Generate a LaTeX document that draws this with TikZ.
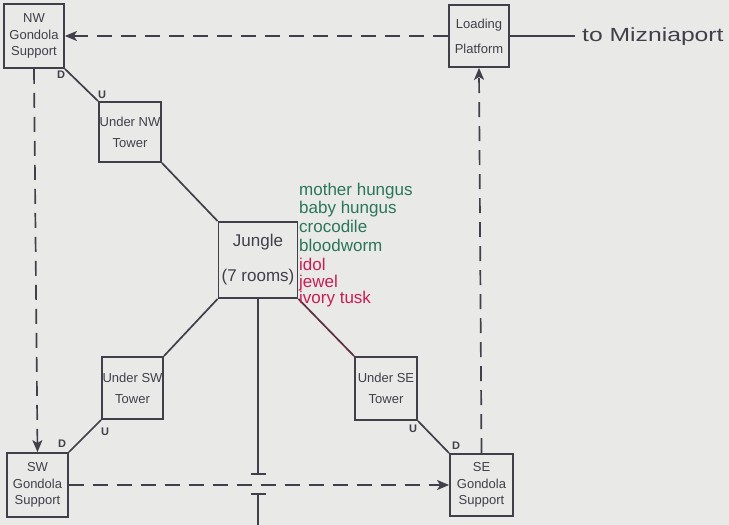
\documentclass[tikz,border=0pt]{standalone}
\usepackage{fontspec}
\setmainfont{Liberation Sans}
\usetikzlibrary{arrows.meta}
\definecolor{bg}{RGB}{233,233,231}
\definecolor{linec}{RGB}{66,62,74}
\definecolor{maroon}{RGB}{92,48,66}
\definecolor{grn}{RGB}{42,118,90}
\definecolor{rd}{RGB}{200,30,88}
\tikzset{
  box/.style={draw=linec, line width=1.8pt, inner sep=0pt, align=center, text=linec},
  gbox/.style={box, font=\fontsize{13}{16.5}\selectfont},
  ubox/.style={box, font=\fontsize{13}{21}\selectfont},
  conn/.style={draw=linec, line width=1.7pt},
  dconn/.style={conn, dash pattern=on 15pt off 9pt, -{Stealth[length=12pt,width=10pt,inset=3pt]}},
  lbl/.style={text=linec, font=\bfseries\fontsize{11}{12}\selectfont, inner sep=0pt},
  item/.style={anchor=base west, inner sep=0pt, font=\fontsize{17}{18}\selectfont},
}
\begin{document}
\begin{tikzpicture}[x=1pt,y=-1pt]
\fill[bg] (0,0) rectangle (729,525);
\useasboundingbox (0,0) rectangle (729,525);

\node[gbox, minimum width=60pt, minimum height=64pt] (nw) at (34,36) {NW\\Gondola\\Support};
\node[ubox, minimum width=60pt, minimum height=62pt, font=\fontsize{13}{25}\selectfont] (lp) at (479,36) {Loading\\Platform};
\node[ubox, minimum width=62pt, minimum height=60pt] (unw) at (130,132) {Under NW\\Tower};
\node[box, minimum width=79pt, minimum height=76pt, font=\fontsize{17}{35}\selectfont] (j) at (258,260) {Jungle\\(7 rooms)};
\node[ubox, minimum width=61pt, minimum height=62pt] (usw) at (132.5,388) {Under SW\\Tower};
\node[ubox, minimum width=62pt, minimum height=63pt] (use) at (386,388.5) {Under SE\\Tower};
\node[gbox, minimum width=61pt, minimum height=64pt] (sw) at (37.5,485) {SW\\Gondola\\Support};
\node[gbox, minimum width=63pt, minimum height=62pt] (se) at (481.5,485) {SE\\Gondola\\Support};

\node[anchor=west, inner sep=0pt, text=linec, font=\fontsize{19}{20}\selectfont] (mz) at (582,37) {\scalebox{1.3}[1]{to Mizniaport}};
\coordinate (mzl) at ([xshift=-7pt]mz.west);
\draw[conn] (lp.east) -- (lp.east -| mzl);

% dashed connectors
\draw[dconn] (lp.west) -- (nw.east);
\draw[dconn] (nw.south) -- (sw.north);
\draw[dconn] (sw.east) -- (se.west);
\draw[dconn] (se.north) -- (lp.south);

% solid connectors
\draw[conn] (nw.south east) -- (unw.north west);
\draw[conn] (unw.south east) -- (j.north west);
\draw[conn] (j.south west) -- (usw.north east);
\draw[conn] (usw.south west) -- (sw.north east);
\draw[conn, draw=maroon] (j.south east) -- (use.north west);
\draw[conn] (use.south east) -- (se.north west);

% D / U labels
\node[lbl] (d1) at (61,75) {D};
\node[lbl] (u1) at (102,95) {U};
\node[lbl] (u2) at (105,432) {U};
\node[lbl] (d2) at (62,444) {D};
\node[lbl] (u3) at (413,429) {U};
\node[lbl] (d3) at (456,446) {D};

% vertical line from Jungle with break
\coordinate (t1) at (j.south |- 0,474);
\coordinate (t2) at (j.south |- 0,494);
\coordinate (bot) at (j.south |- 0,525);
\draw[conn] (j.south) -- (t1);
\draw[draw=linec, line width=2.6pt] ([xshift=-7.5pt]t1) -- ([xshift=7.5pt]t1);
\draw[draw=linec, line width=2.6pt] ([xshift=-7.5pt]t2) -- ([xshift=7.5pt]t2);
\draw[conn] (t2) -- (bot);

% item list
\node[item, text=grn] (i1) at (299,195) {mother hungus};
\node[item, text=grn] (i2) at (299,213) {baby hungus};
\node[item, text=grn] (i3) at (299,232) {crocodile};
\node[item, text=grn] (i4) at (299,251) {bloodworm};
\node[item, text=rd] (i5) at (299,270) {idol};
\node[item, text=rd] (i6) at (299,287) {jewel};
\node[item, text=rd] (i7) at (299,303) {ivory tusk};
\end{tikzpicture}
\end{document}
